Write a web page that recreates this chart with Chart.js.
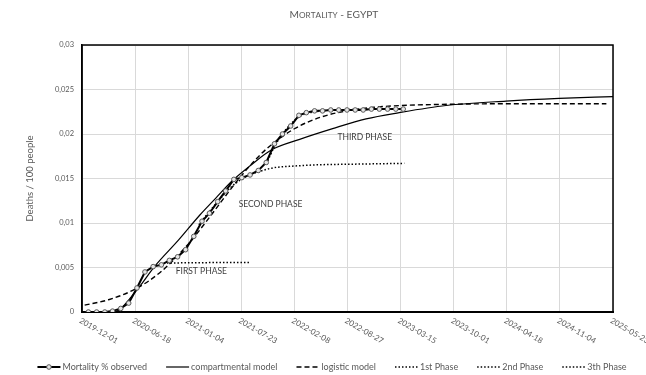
<!DOCTYPE html>
<html>
<head>
<meta charset="utf-8">
<script src="https://cdn.jsdelivr.net/npm/chart.js@4.4.1/dist/chart.umd.min.js"></script>
<style>
  html, body { margin: 0; padding: 0; background: #fff; }
</style>
</head>
<body>
<canvas id="mortalityChart" width="646" height="375"></canvas>
<script>
// Textos de la gráfica
const chartTitle = 'Mortality - EGYPT';
const yAxisTitle = 'Deaths / 100 people';
const seriesNames = ['Mortality % observed', 'compartmental model', 'logistic model', '1st Phase', '2nd Phase', '3th Phase'];
const startDate = '2019-12-01';

// Etiquetas de los ejes
const xTickLabels = ['2019-12-01', '2020-06-18', '2021-01-04', '2021-07-23', '2022-02-08', '2022-08-27',
    '2023-03-15', '2023-10-01', '2024-04-18', '2024-11-04', '2025-05-23'];
const yTickLabels = ['0', '0,005', '0,01', '0,015', '0,02', '0,025', '0,03'];

// Mortalidad observada (un punto por mes)
const observedDates = [
    '2019-12-25',
    '2020-01-25', '2020-02-25', '2020-03-25', '2020-04-25', '2020-05-25', '2020-06-25',
    '2020-07-25', '2020-08-25', '2020-09-25', '2020-10-25', '2020-11-25', '2020-12-25',
    '2021-01-25', '2021-02-25', '2021-03-25', '2021-04-25', '2021-05-25', '2021-06-25',
    '2021-07-25', '2021-08-25', '2021-09-25', '2021-10-25', '2021-11-25', '2021-12-25',
    '2022-01-25', '2022-02-25', '2022-03-25', '2022-04-25', '2022-05-25', '2022-06-25',
    '2022-07-25', '2022-08-25', '2022-09-25', '2022-10-25', '2022-11-25', '2022-12-25',
    '2023-01-25', '2023-02-25', '2023-03-25'
];
const observedValues = [
    0,
    0, 0, 0.0001, 0.0004, 0.0010, 0.0027,
    0.0045, 0.0051, 0.0053, 0.0058, 0.0062, 0.0070,
    0.0085, 0.0102, 0.0111, 0.0124, 0.0136, 0.0149,
    0.0151, 0.0154, 0.0159, 0.0168, 0.0189, 0.0200,
    0.0209, 0.0221, 0.0224, 0.0226, 0.0226, 0.0227,
    0.0227, 0.0227, 0.0227, 0.0227, 0.0228, 0.0228,
    0.0228, 0.0228, 0.0228
];

// Modelos (días desde 2019-12-01)
const compartmentalDays = [100, 120, 143, 180, 218, 273, 364, 444, 504, 568, 632, 713, 820, 944, 1070, 1195, 1371, 1597, 1797, 2000];
const compartmentalValues = [0, 0, 0.0003, 0.0015, 0.0029, 0.0051, 0.0081, 0.0109, 0.0128, 0.0148, 0.0164, 0.0182, 0.0194, 0.0206, 0.0217, 0.0224, 0.0232, 0.0237, 0.0240, 0.0242];

const logisticDays = [10, 100, 200, 300, 400, 450, 500, 550, 600, 650, 700, 800, 900, 1000, 1100, 1200, 1400, 1600, 1975];
const logisticValues = [0.00077, 0.00138, 0.00257, 0.00459, 0.00763, 0.00946, 0.01143, 0.01341, 0.0153, 0.0170, 0.01846, 0.02059, 0.0219, 0.02261, 0.0230, 0.0232, 0.02335, 0.0234, 0.0234];

const phase1Days = [320, 400, 500, 632];
const phase1Values = [0.0055, 0.00553, 0.00555, 0.00555];

const phase2Days = [440, 480, 520, 560, 600, 640, 680, 720, 800, 900, 1000, 1214];
const phase2Values = [0.0098, 0.0113, 0.0127, 0.0140, 0.0149, 0.0155, 0.0159, 0.0162, 0.0164, 0.01655, 0.0166, 0.0167];

const phase3Days = [700, 725, 755, 786, 816, 847, 877, 950, 1214];
const phase3Values = [0.0170, 0.0186, 0.0200, 0.0211, 0.0219, 0.0223, 0.0225, 0.0227, 0.0228];

// Rótulos de las fases (posición en días / valor)
const phaseNotes = [
    { text: 'FIRST PHASE', day: 353, value: 0.00453 },
    { text: 'SECOND PHASE', day: 590, value: 0.01213 },
    { text: 'THIRD PHASE', day: 962, value: 0.01966 }
];

const textColor = '#595959';
const fontFamily = 'Lato, "Open Sans", sans-serif';

function daysFromStart(dateStr) {
    return (Date.parse(dateStr) - Date.parse(startDate)) / 86400000;
}

function toPoints(xs, ys) {
    return xs.map((x, i) => ({ x: x, y: ys[i] }));
}

// Título con versalitas
const titlePlugin = {
    id: 'smallCapsTitle',
    afterDraw(chart) {
        const ctx = chart.ctx;
        const big = 10.2, small = 8.2;
        const parts = [];
        for (const ch of chartTitle) {
            const lower = ch !== ch.toUpperCase();
            parts.push({ text: ch.toUpperCase(), size: lower ? small : big });
        }
        ctx.save();
        ctx.fillStyle = textColor;
        ctx.textBaseline = 'alphabetic';
        ctx.textAlign = 'left';
        let total = 0;
        parts.forEach(p => {
            ctx.font = p.size + 'px ' + fontFamily;
            p.w = ctx.measureText(p.text).width;
            total += p.w;
        });
        let x = 334 - total / 2;
        parts.forEach(p => {
            ctx.font = p.size + 'px ' + fontFamily;
            ctx.fillText(p.text, x, 18);
            x += p.w;
        });
        ctx.restore();
    }
};

// Marco del área de trazado
const framePlugin = {
    id: 'plotFrame',
    beforeDatasetsDraw(chart) {
        const a = chart.chartArea;
        const ctx = chart.ctx;
        ctx.save();
        ctx.strokeStyle = '#000';
        ctx.lineWidth = 1.5;
        ctx.strokeRect(a.left, a.top, a.right - a.left, a.bottom - a.top);
        ctx.restore();
    }
};

// Etiquetas del eje X giradas hacia abajo a la derecha
const xLabelsPlugin = {
    id: 'xDateLabels',
    afterDraw(chart) {
        const ctx = chart.ctx;
        const xs = chart.scales.x;
        ctx.save();
        ctx.fillStyle = textColor;
        ctx.font = '8px ' + fontFamily;
        ctx.textAlign = 'left';
        ctx.textBaseline = 'middle';
        xs.ticks.forEach((t, i) => {
            if (xTickLabels[i] === undefined) return;
            const px = xs.getPixelForValue(t.value);
            ctx.save();
            ctx.translate(px - 2, chart.chartArea.bottom + 8);
            ctx.rotate(Math.PI / 6);
            ctx.fillText(xTickLabels[i], 0, 0);
            ctx.restore();
        });
        ctx.restore();
    }
};

// Rótulos de fases
const notesPlugin = {
    id: 'phaseNotes',
    afterDatasetsDraw(chart) {
        const ctx = chart.ctx;
        const xs = chart.scales.x, ys = chart.scales.y;
        ctx.save();
        ctx.fillStyle = '#404040';
        ctx.font = '8.5px ' + fontFamily;
        ctx.textAlign = 'left';
        ctx.textBaseline = 'middle';
        phaseNotes.forEach(n => {
            ctx.fillText(n.text, xs.getPixelForValue(n.day), ys.getPixelForValue(n.value));
        });
        ctx.restore();
    }
};

// Leyenda dibujada a mano (línea + marcador + texto)
const legendPlugin = {
    id: 'lineLegend',
    afterDraw(chart) {
        const ctx = chart.ctx;
        const lineW = 23, gapText = 2, gapItem = 19, y = 367;
        ctx.save();
        ctx.font = '9px ' + fontFamily;
        const sets = chart.data.datasets;
        const widths = sets.map(ds => lineW + gapText + ctx.measureText(ds.label).width);
        const total = widths.reduce((a, b) => a + b, 0) + gapItem * (sets.length - 1);
        let x = 332 - total / 2;
        sets.forEach((ds, i) => {
            ctx.save();
            ctx.strokeStyle = ds.borderColor;
            ctx.lineWidth = ds.borderWidth;
            ctx.setLineDash(ds.borderDash || []);
            ctx.beginPath();
            ctx.moveTo(x, y);
            ctx.lineTo(x + lineW, y);
            ctx.stroke();
            if (ds.pointRadius > 0) {
                ctx.setLineDash([]);
                ctx.beginPath();
                ctx.arc(x + lineW / 2, y, ds.pointRadius, 0, Math.PI * 2);
                ctx.fillStyle = ds.pointBackgroundColor;
                ctx.fill();
                ctx.lineWidth = ds.pointBorderWidth;
                ctx.strokeStyle = ds.pointBorderColor;
                ctx.stroke();
            }
            ctx.restore();
            ctx.fillStyle = textColor;
            ctx.textAlign = 'left';
            ctx.textBaseline = 'middle';
            ctx.fillText(ds.label, x + lineW + gapText, y);
            x += widths[i] + gapItem;
        });
        ctx.restore();
    }
};

const modelLine = {
    borderColor: '#000',
    backgroundColor: '#000',
    pointRadius: 0,
    fill: false,
    cubicInterpolationMode: 'monotone'
};

const ctx = document.getElementById('mortalityChart').getContext('2d');
const mortalityChart = new Chart(ctx, {
    type: 'line',
    data: {
        datasets: [
            {
                label: seriesNames[0],
                data: toPoints(observedDates.map(daysFromStart), observedValues),
                borderColor: '#000',
                backgroundColor: '#000',
                borderWidth: 2,
                pointRadius: 2.3,
                pointBorderWidth: 1,
                pointBorderColor: '#595959',
                pointBackgroundColor: '#e6e6e6',
                tension: 0
            },
            Object.assign({}, modelLine, {
                label: seriesNames[1],
                data: toPoints(compartmentalDays, compartmentalValues),
                borderWidth: 1.2
            }),
            Object.assign({}, modelLine, {
                label: seriesNames[2],
                data: toPoints(logisticDays, logisticValues),
                borderWidth: 1.4,
                borderDash: [5, 3]
            }),
            Object.assign({}, modelLine, {
                label: seriesNames[3],
                data: toPoints(phase1Days, phase1Values),
                borderWidth: 1.5,
                borderDash: [1.5, 2]
            }),
            Object.assign({}, modelLine, {
                label: seriesNames[4],
                data: toPoints(phase2Days, phase2Values),
                borderWidth: 1.5,
                borderDash: [1.5, 2]
            }),
            Object.assign({}, modelLine, {
                label: seriesNames[5],
                data: toPoints(phase3Days, phase3Values),
                borderWidth: 1.5,
                borderDash: [1.5, 2]
            })
        ]
    },
    options: {
        responsive: false,
        animation: false,
        devicePixelRatio: 1,
        layout: { padding: { top: 45, left: 0, right: 0, bottom: 0 } },
        plugins: {
            title: { display: false },
            tooltip: { enabled: false },
            legend: { display: false }
        },
        scales: {
            x: {
                type: 'linear',
                min: 0,
                max: 2000,
                ticks: { stepSize: 200, display: false },
                grid: { color: '#d9d9d9', drawTicks: false },
                border: { color: '#000', width: 2 },
                afterFit(scale) { scale.height = 63; }
            },
            y: {
                min: 0,
                max: 0.03,
                ticks: {
                    stepSize: 0.005,
                    padding: 8,
                    color: textColor,
                    font: { family: fontFamily, size: 7.5 },
                    callback: (v, i) => yTickLabels[i]
                },
                grid: { color: '#d9d9d9', drawTicks: false },
                border: { color: '#000', width: 1.5 },
                title: {
                    display: true,
                    text: yAxisTitle,
                    color: textColor,
                    font: { family: fontFamily, size: 9.5 },
                    padding: { top: 24, bottom: 0 }
                },
                afterFit(scale) { scale.width = 82; }
            },
            yRight: {
                position: 'right',
                display: true,
                ticks: { display: false },
                grid: { display: false },
                border: { display: false },
                afterFit(scale) { scale.width = 33; }
            }
        }
    },
    plugins: [titlePlugin, framePlugin, xLabelsPlugin, notesPlugin, legendPlugin]
});
</script>
</body>
</html>
